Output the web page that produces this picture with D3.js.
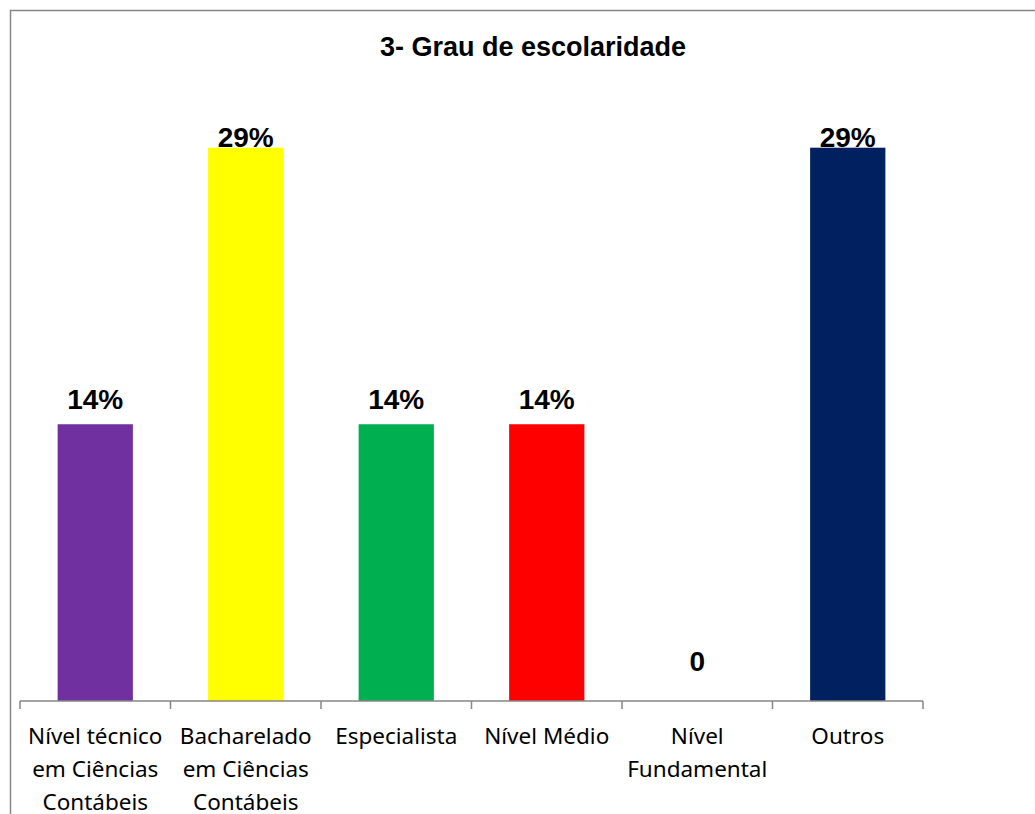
<!DOCTYPE html>
<html>
<head>
<meta charset="utf-8">
<script src="https://cdn.jsdelivr.net/npm/d3@7"></script>
<style>
  body { margin: 0; background: #fff; }
</style>
</head>
<body>
<svg id="chart" width="1035" height="814"></svg>
<script>
// the data
const categories = [
  ["Nível técnico", "em Ciências", "Contábeis"],
  ["Bacharelado", "em Ciências", "Contábeis"],
  ["Especialista"],
  ["Nível Médio"],
  ["Nível", "Fundamental"],
  ["Outros"]
];
const values = [0.1429, 0.2857, 0.1429, 0.1429, 0, 0.2857];
const colors = ["#7030A0", "#FFFF00", "#00B050", "#FF0000", "#FFFFFF", "#002060"];
const title = "3- Grau de escolaridade";

let svg = d3.select("#chart");

// frame around the chart
svg.append("rect")
  .attr("x", 10.5).attr("y", 10.5)
  .attr("width", 1040).attr("height", 820)
  .attr("fill", "none")
  .attr("stroke", "#868686")
  .attr("stroke-width", 1.5);

// title
svg.append("text")
  .attr("x", 533).attr("y", 56)
  .attr("text-anchor", "middle")
  .style("font-family", "'Liberation Sans', Arial, sans-serif")
  .style("font-weight", "bold")
  .style("font-size", "27px")
  .text(title);

// scales
let idx = d3.range(categories.length);
let x = d3.scaleBand().domain(idx).range([20, 923]);
let y = d3.scaleLinear().domain([0, 0.3]).range([701, 120]);

// bars
svg.append("g")
  .selectAll("rect")
  .data(idx)
  .enter()
  .append("rect")
  .attr("x", i => x(i) + x.bandwidth() * 0.25)
  .attr("width", x.bandwidth() * 0.5)
  .attr("y", i => y(values[i]))
  .attr("height", i => y(0) - y(values[i]))
  .attr("fill", i => colors[i]);

// axis line + ticks at band edges
let axis = svg.append("g").attr("stroke", "#868686").attr("stroke-width", 1.5);
axis.append("line")
  .attr("x1", x.range()[0]).attr("x2", x.range()[1])
  .attr("y1", y(0)).attr("y2", y(0));
axis.selectAll("line.tick")
  .data(idx.concat([categories.length]))
  .enter()
  .append("line")
  .attr("class", "tick")
  .attr("x1", i => x.range()[0] + i * x.step())
  .attr("x2", i => x.range()[0] + i * x.step())
  .attr("y1", y(0)).attr("y2", y(0) + 8);

// category labels
let fmt = d3.format(".0%");
let labels = svg.append("g")
  .selectAll("text")
  .data(idx)
  .enter()
  .append("text")
  .attr("text-anchor", "middle")
  .style("font-family", "'Noto Sans', sans-serif")
  .style("font-size", "22.5px")
  .attr("fill", "#000");
labels.selectAll("tspan")
  .data(i => categories[i].map(t => ({ t: t, i: i })))
  .enter()
  .append("tspan")
  .attr("x", d => x(d.i) + x.bandwidth() / 2)
  .attr("y", (d, k) => 744 + k * 33)
  .text(d => d.t);

// value labels
svg.append("g")
  .selectAll("text")
  .data(idx)
  .enter()
  .append("text")
  .attr("text-anchor", "middle")
  .attr("x", i => x(i) + x.bandwidth() / 2)
  .attr("y", i => values[i] === 0 ? y(0) - 30 : Math.max(y(values[i]) - 15, 147))
  .style("font-family", "'Liberation Sans', Arial, sans-serif")
  .style("font-weight", "bold")
  .style("font-size", "28px")
  .text(i => values[i] === 0 ? "0" : fmt(values[i]));
</script>
</body>
</html>
